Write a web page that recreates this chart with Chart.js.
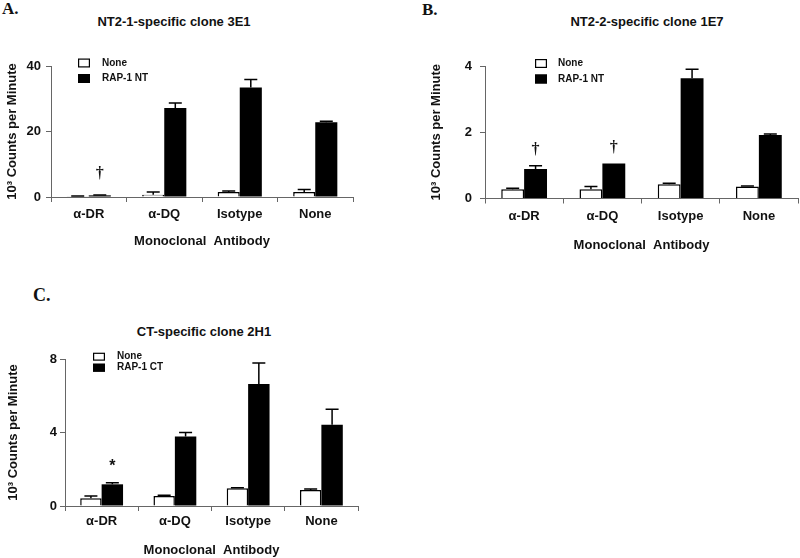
<!DOCTYPE html>
<html><head><meta charset="utf-8">
<script src="https://cdn.jsdelivr.net/npm/chart.js@4"></script>
<style>
html,body{margin:0;padding:0;background:#fff;}
body{width:800px;height:558px;position:relative;overflow:hidden;font-family:"Liberation Sans",Arial,sans-serif;}
canvas{position:absolute;}
.lbl{position:absolute;font-family:"Liberation Serif","Times New Roman",serif;font-weight:bold;line-height:1;color:#111;}
.ttl{position:absolute;width:300px;text-align:center;font-weight:bold;font-size:13px;line-height:16px;color:#111;white-space:nowrap;}
</style></head>
<body>
<div class="lbl" style="left:2px;top:0px;font-size:17px">A.</div>
<div class="lbl" style="left:422px;top:1px;font-size:17px">B.</div>
<div class="lbl" style="left:33px;top:286px;font-size:18px">C.</div>
<div class="ttl" style="left:24px;top:14px">NT2-1-specific clone 3E1</div>
<div class="ttl" style="left:497px;top:14px">NT2-2-specific clone 1E7</div>
<div class="ttl" style="left:54px;top:324px">CT-specific clone 2H1</div>
<canvas id="cA" width="400" height="253" style="left:0;top:0"></canvas>
<canvas id="cB" width="400" height="257" style="left:400px;top:0"></canvas>
<canvas id="cC" width="400" height="288" style="left:0;top:270px"></canvas>
<script>
// ---- data ----
const categories = ['\u03B1-DR', '\u03B1-DQ', 'Isotype', 'None'];

const noneA    = [0.2, 0.7, 1.5, 1.5];
const noneAErr = [0.1, 0.8, 0.3, 0.8];
const rapA     = [0.5, 27.2, 33.4, 22.8];
const rapAErr  = [0.1, 1.5, 2.5, 0.3];
const marksA   = ['\u2020', '', '', ''];
const yTicksA  = [0, 20, 40];

const noneB    = [0.28, 0.28, 0.43, 0.36];
const noneBErr = [0.03, 0.08, 0.03, 0.02];
const rapB     = [0.89, 1.06, 3.63, 1.92];
const rapBErr  = [0.10, 0, 0.27, 0.03];
const marksB   = ['\u2020', '\u2020', '', ''];
const yTicksB  = [0, 2, 4];

const noneC    = [0.42, 0.55, 0.96, 0.87];
const noneCErr = [0.13, 0.03, 0.04, 0.06];
const rapC     = [1.18, 3.78, 6.64, 4.42];
const rapCErr  = [0.09, 0.22, 1.14, 0.85];
const marksC   = ['*', '', '', ''];
const yTicksC  = [0, 4, 8];

const seriesNames = ['None', 'RAP-1 NT', 'RAP-1 CT'];

// ---- plugin: error bars, significance marks, legend ----
const extras = {
  id: 'extras',
  afterDatasetsDraw(chart, args, o) {
    const ctx = chart.ctx, ys = chart.scales.y, ca = chart.chartArea;
    ctx.save();
    chart.data.datasets.forEach((ds, i) => {
      const meta = chart.getDatasetMeta(i);
      meta.data.forEach((bar, j) => {
        const e = ds.errors ? ds.errors[j] : 0;
        let top = bar.y;
        if (e) {
          top = ys.getPixelForValue(ds.data[j] + e);
          ctx.beginPath();
          ctx.strokeStyle = '#000';
          ctx.lineWidth = 1.5;
          ctx.moveTo(bar.x, bar.y);
          ctx.lineTo(bar.x, top);
          ctx.moveTo(bar.x - 6.5, top);
          ctx.lineTo(bar.x + 6.5, top);
          ctx.stroke();
        }
        if (ds.marks && ds.marks[j]) {
          const m = ds.marks[j];
          ctx.fillStyle = '#111';
          ctx.textAlign = 'center';
          ctx.textBaseline = 'middle';
          ctx.font = m === '*' ? 'bold 16px "Liberation Sans"' : 'bold 16px "Liberation Serif"';
          ctx.fillText(m, bar.x, top - o.markOffset);
        }
      });
    });
    // legend
    const L = o.legend;
    chart.data.datasets.forEach((ds, i) => {
      const cy = ca.top + L.dy + i * L.gap;
      const bx = ca.left + L.dx;
      ctx.fillStyle = ds.backgroundColor;
      ctx.fillRect(bx, cy - L.bh / 2, 12, L.bh);
      ctx.strokeStyle = '#000';
      ctx.lineWidth = 1.2;
      ctx.strokeRect(bx + 0.6, cy - L.bh / 2 + 0.6, 10.8, L.bh - 1.2);
      ctx.fillStyle = '#111';
      ctx.font = 'bold 10px "Liberation Sans"';
      ctx.textAlign = 'left';
      ctx.textBaseline = 'middle';
      ctx.fillText(ds.label, bx + L.tx, cy);
    });
    ctx.restore();
  }
};

const F13 = {family: '"Liberation Sans", Arial, sans-serif', size: 13, weight: 'bold'};

function makeChart(id, c) {
  return new Chart(document.getElementById(id), {
    type: 'bar',
    data: {
      labels: categories,
      datasets: [
        {label: c.names[0], data: c.none, errors: c.noneErr, backgroundColor: '#fff', borderColor: '#000', borderWidth: 1.5},
        {label: c.names[1], data: c.rap, errors: c.rapErr, marks: c.marks, backgroundColor: '#000', borderColor: '#000', borderWidth: 0}
      ]
    },
    options: {
      responsive: false, animation: false, devicePixelRatio: 1,
      layout: {padding: c.pad},
      datasets: {bar: {categoryPercentage: 0.585, barPercentage: 1}},
      plugins: {
        legend: {display: false}, tooltip: {enabled: false},
        extras: {markOffset: c.markOffset, legend: c.legend}
      },
      scales: {
        x: {
          offset: true,
          grid: {display: true, drawOnChartArea: false, tickLength: 5, color: '#666', offset: true},
          border: {display: true, color: '#666', width: 1},
          ticks: {font: F13, color: '#111', padding: c.xpad, maxRotation: 0},
          title: {display: true, text: 'Monoclonal  Antibody', font: F13, color: '#111', padding: {top: 4, bottom: c.tb}},
          afterFit(s) { s.height = c.xh; }
        },
        y: {
          min: c.yticks[0], max: c.yticks[c.yticks.length - 1],
          afterBuildTicks(s) { s.ticks = c.yticks.map(v => ({value: v})); },
          grid: {display: true, drawOnChartArea: false, tickLength: 5, color: '#666'},
          border: {display: true, color: '#666', width: 1},
          ticks: {font: F13, color: '#111', padding: c.ypad},
          title: {display: true, text: '10\u00B3 Counts per Minute', font: F13, color: '#111', padding: {top: 4, bottom: 4}},
          afterFit(s) { s.width = c.yw; }
        }
      }
    },
    plugins: [extras]
  });
}

makeChart('cA', {
  names: [seriesNames[0], seriesNames[1]], none: noneA, noneErr: noneAErr, rap: rapA, rapErr: rapAErr, marks: marksA, yticks: yTicksA,
  pad: {left: 1, top: 66, right: 47, bottom: 0}, yw: 50, xh: 56, xpad: 5, ypad: 5, tb: 4,
  markOffset: 21, legend: {dx: 27, dy: -3, gap: 15.5, tx: 24, bh: 9}
});
makeChart('cB', {
  names: [seriesNames[0], seriesNames[1]], none: noneB, noneErr: noneBErr, rap: rapB, rapErr: rapBErr, marks: marksB, yticks: yTicksB,
  pad: {left: 25, top: 66, right: 2, bottom: 0}, yw: 60, xh: 58.5, xpad: 5, ypad: 8, tb: 4,
  markOffset: 16, legend: {dx: 50, dy: -2.5, gap: 15.5, tx: 23, bh: 9}
});
makeChart('cC', {
  names: [seriesNames[0], seriesNames[2]], none: noneC, noneErr: noneCErr, rap: rapC, rapErr: rapCErr, marks: marksC, yticks: yTicksC,
  pad: {left: 2, top: 89, right: 42, bottom: 0}, yw: 63, xh: 52, xpad: 3, ypad: 3, tb: 0,
  markOffset: 16, legend: {dx: 28, dy: -2.3, gap: 11, tx: 24, bh: 8}
});
</script>
</body></html>
